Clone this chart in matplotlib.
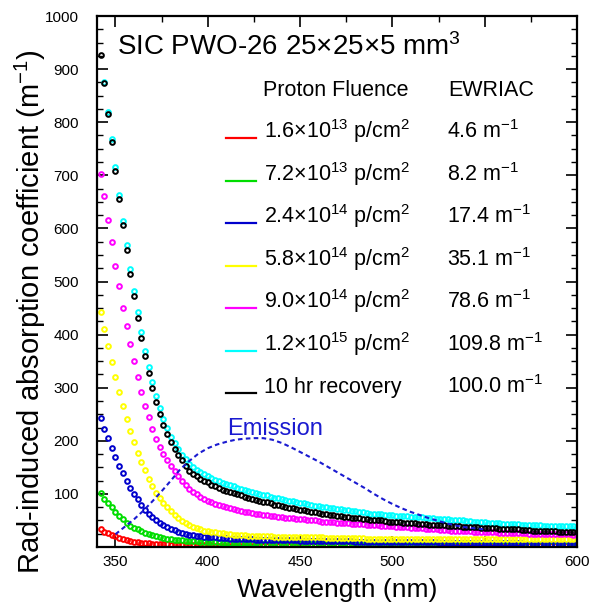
import numpy as np
import matplotlib
matplotlib.use("Agg")
import matplotlib.pyplot as plt
from matplotlib.lines import Line2D

plt.rcParams['font.family'] = ['Liberation Sans', 'DejaVu Sans']
plt.rcParams['mathtext.fontset'] = 'custom'
plt.rcParams['mathtext.rm'] = 'Liberation Sans'
plt.rcParams['mathtext.it'] = 'Liberation Sans:italic'
plt.rcParams['mathtext.default'] = 'regular'

# wavelength grid of the absorption spectra (nm), 342..600 every 2 nm
wl = np.arange(342, 601, 2)

red = [33, 29, 26, 23, 20, 17, 15, 13, 11, 10,
       9, 8, 7, 7, 6, 6, 5, 5, 5, 4,
       4, 4, 4, 3, 3, 3, 3, 3, 3, 3,
       3, 2, 2, 2, 2, 2, 2, 2, 2, 2,
       2, 2, 2, 2, 2, 1, 1, 1, 1, 1,
       1, 1, 1, 1, 1, 1, 1, 1, 1, 1,
       1, 1, 1, 1, 1, 1, 1, 1, 1, 1,
       1, 1, 1, 1, 1, 1, 1, 1, 1, 1,
       1, 1, 1, 1, 1, 1, 1, 1, 1, 1,
       1, 1, 1, 1, 1, 1, 1, 1, 1, 1,
       1, 1, 1, 1, 1, 1, 1, 1, 1, 1,
       1, 1, 1, 1, 1, 1, 1, 1, 1, 1,
       1, 1, 1, 1, 1, 1, 1, 1, 1, 1]

green = [101, 90, 82, 75, 66, 59, 53, 46, 40, 36,
         33, 30, 27, 24, 22, 20, 19, 17, 16, 15,
         14, 13, 13, 12, 12, 11, 11, 10, 10, 10,
         9, 9, 9, 8, 8, 8, 8, 7, 7, 7,
         7, 7, 7, 6, 6, 6, 6, 6, 6, 6,
         6, 5, 5, 5, 5, 5, 5, 5, 5, 5,
         5, 5, 5, 5, 4, 4, 4, 4, 4, 4,
         4, 4, 4, 4, 4, 4, 4, 4, 4, 4,
         4, 4, 4, 4, 4, 3, 3, 3, 3, 3,
         3, 3, 3, 3, 3, 3, 3, 3, 3, 3,
         3, 3, 3, 3, 3, 3, 3, 3, 3, 3,
         3, 3, 3, 3, 3, 3, 3, 3, 3, 3,
         3, 3, 3, 3, 3, 3, 3, 3, 3, 3]

blue = [242, 222, 205, 186, 169, 153, 139, 125, 112, 100,
        90, 79, 70, 63, 57, 51, 46, 42, 38, 34,
        32, 29, 27, 25, 23, 22, 21, 20, 19, 19,
        18, 18, 17, 17, 17, 16, 16, 16, 15, 15,
        15, 15, 14, 14, 14, 14, 14, 13, 13, 13,
        13, 13, 13, 13, 12, 12, 12, 12, 12, 12,
        12, 11, 11, 11, 11, 11, 11, 11, 11, 10,
        10, 10, 10, 10, 10, 10, 10, 10, 10, 10,
        10, 10, 9, 9, 9, 9, 9, 9, 9, 9,
        9, 9, 8, 8, 8, 8, 8, 8, 8, 8,
        8, 8, 7, 7, 7, 7, 7, 7, 7, 7,
        7, 7, 7, 7, 7, 6, 6, 6, 6, 6,
        6, 6, 6, 6, 6, 6, 6, 6, 6, 6]

yellow = [442, 410, 379, 349, 320, 292, 265, 241, 218, 197,
          177, 160, 145, 129, 115, 102, 92, 83, 75, 67,
          61, 55, 49, 45, 41, 38, 35, 33, 31, 30,
          29, 28, 27, 26, 25, 24, 23, 23, 22, 22,
          21, 21, 21, 20, 20, 20, 20, 19, 19, 19,
          19, 19, 19, 18, 18, 18, 18, 18, 18, 18,
          18, 17, 17, 17, 17, 17, 17, 17, 17, 17,
          17, 17, 16, 16, 16, 16, 16, 16, 16, 16,
          16, 16, 16, 16, 16, 16, 16, 16, 16, 16,
          16, 16, 16, 16, 16, 16, 16, 16, 15, 15,
          15, 15, 15, 15, 15, 15, 15, 15, 15, 15,
          15, 15, 15, 15, 15, 15, 15, 15, 15, 15,
          15, 15, 15, 15, 15, 15, 15, 15, 15, 15]

magenta = [702, 661, 616, 574, 530, 491, 451, 416, 382, 350,
           320, 291, 266, 244, 222, 203, 188, 176, 164, 153,
           144, 134, 125, 116, 109, 104, 99, 94, 90, 87,
           84, 81, 79, 77, 75, 73, 71, 69, 67, 66,
           65, 64, 63, 62, 61, 60, 59, 58, 57, 56,
           55, 55, 54, 53, 53, 52, 51, 50, 50, 49,
           48, 48, 47, 47, 46, 46, 45, 45, 44, 44,
           43, 43, 42, 42, 41, 41, 40, 40, 39, 39,
           38, 38, 37, 37, 36, 36, 35, 35, 34, 33,
           33, 33, 32, 32, 32, 31, 31, 31, 30, 30,
           30, 29, 29, 29, 28, 28, 28, 28, 27, 27,
           27, 27, 26, 26, 26, 26, 25, 25, 25, 25,
           25, 25, 24, 24, 24, 24, 24, 24, 23, 23]

# cyan series starts at 344 nm
cyan = [876, 820, 768, 715, 662, 614, 568, 523, 482,
        442, 404, 370, 339, 310, 285, 262, 241, 224, 208,
        195, 184, 174, 165, 156, 150, 145, 141, 137, 134,
        130, 127, 124, 121, 118, 116, 114, 112, 110, 108,
        106, 104, 102, 100, 98, 97, 95, 93, 92, 90,
        89, 87, 86, 84, 83, 82, 81, 79, 78, 77,
        76, 75, 74, 73, 72, 71, 70, 69, 68, 67,
        66, 65, 64, 63, 63, 62, 62, 61, 60, 60,
        59, 59, 58, 58, 57, 57, 56, 56, 55, 54,
        54, 53, 53, 52, 52, 51, 51, 50, 50, 49,
        49, 48, 48, 47, 47, 46, 46, 45, 45, 44,
        44, 44, 43, 43, 42, 42, 42, 41, 41, 41,
        40, 40, 40, 40, 39, 39, 39, 39, 39, 38]

black = [927, 873, 816, 763, 709, 655, 606, 559, 514, 472,
         432, 393, 359, 328, 299, 274, 251, 230, 213, 197,
         184, 173, 163, 153, 144, 138, 133, 129, 125, 122,
         117, 114, 111, 108, 105, 103, 101, 99, 97, 95,
         93, 91, 89, 87, 85, 84, 82, 80, 79, 77,
         76, 74, 73, 71, 70, 69, 68, 66, 65, 64,
         63, 62, 61, 60, 59, 58, 57, 56, 55, 54,
         54, 53, 52, 51, 51, 50, 50, 49, 48, 48,
         47, 47, 46, 46, 45, 45, 44, 44, 43, 42,
         42, 42, 41, 41, 40, 40, 39, 39, 38, 38,
         38, 37, 37, 36, 36, 36, 35, 35, 34, 34,
         34, 33, 33, 33, 32, 32, 32, 31, 31, 31,
         30, 30, 30, 30, 29, 29, 29, 29, 29, 28]

# emission spectrum (arbitrary units, scaled onto the same axis)
em_wl = np.arange(350, 551, 5)
emission = [24, 38, 52, 68, 86, 105, 125, 146, 162, 176,
            186, 193, 198, 202, 204, 205, 205, 202, 196, 188,
            179, 170, 161, 151, 141, 131, 121, 111, 100, 90,
            81, 73, 66, 60, 54, 49, 44, 40, 37, 35, 33]

fluence = ['1.6×10$^{13}$ p/cm$^2$', '7.2×10$^{13}$ p/cm$^2$',
           '2.4×10$^{14}$ p/cm$^2$', '5.8×10$^{14}$ p/cm$^2$',
           '9.0×10$^{14}$ p/cm$^2$', '1.2×10$^{15}$ p/cm$^2$',
           '10 hr recovery']
ewriac = ['4.6 m$^{-1}$', '8.2 m$^{-1}$', '17.4 m$^{-1}$', '35.1 m$^{-1}$',
          '78.6 m$^{-1}$', '109.8 m$^{-1}$', '100.0 m$^{-1}$']
colors = ['#ff0000', '#00dd00', '#0000cc', '#ffff00', '#ff00ff', '#00ffff', '#000000']

fig = plt.figure(figsize=(5.9, 6.04), dpi=100)
ax = fig.add_axes([97/590, 1-547/604, 480/590, 531/604])

series = [(wl, red), (wl, green), (wl, blue), (wl, yellow),
          (wl, magenta), (wl[1:], cyan), (wl, black)]
for (x, y), c in zip(series, colors):
    ax.plot(x, y, 'o', ms=3.4, mew=1.4, mfc='none', mec=c, ls='none')

ax.plot(em_wl, emission, color='#1a1ad0', lw=1.5, ls=(0, (2.2, 1.6)))

ax.set_xlim(340, 600)
ax.set_ylim(0, 1000)
ax.set_xticks([350, 400, 450, 500, 550, 600])
ax.set_xticks([375, 425, 475, 525, 575], minor=True)
ax.set_yticks(np.arange(0, 1001, 100))
ax.set_yticklabels([''] + [str(v) for v in range(100, 1001, 100)])
ax.set_yticks(np.arange(25, 1000, 25), minor=True)
ax.tick_params(which='both', direction='in', top=True, right=True, labelsize=11)
ax.tick_params(which='major', length=8, width=1.2)
ax.tick_params(which='minor', length=4, width=1.0)
ax.tick_params(axis='y', which='major', pad=13)
ax.tick_params(axis='x', which='major', pad=6)
for s in ax.spines.values():
    s.set_linewidth(1.6)

def fx(px):
    return px / 590

def fy(py):
    return 1 - py / 604

fig.text(fx(30), fy(312), 'Rad-induced absorption coefficient (m$^{-1}$)',
         rotation=90, ha='center', va='center', fontsize=21)
fig.text(fx(337), fy(590), 'Wavelength (nm)', ha='center', va='center', fontsize=19)

fig.text(fx(117), fy(55), 'SIC PWO-26 25×25×5 mm$^3$', fontsize=20, va='baseline')
fig.text(fx(263), fy(96), 'Proton Fluence', fontsize=15.5, va='baseline')
fig.text(fx(448), fy(96), 'EWRIAC', fontsize=15.5, va='baseline')

rows = [138, 181, 223, 266, 308, 351, 393]
for r, lab, ew, c in zip(rows, fluence, ewriac, colors):
    fig.add_artist(Line2D([fx(226), fx(256)], [fy(r), fy(r)], color=c, lw=1.6))
    fig.text(fx(264), fy(r), lab, fontsize=15.5, va='baseline')
    fig.text(fx(447), fy(r), ew, fontsize=15.5, va='baseline')

fig.text(fx(227), fy(435), 'Emission', color='#1a1ad0', fontsize=17, va='baseline')

fig.savefig('out.png', dpi=100)
